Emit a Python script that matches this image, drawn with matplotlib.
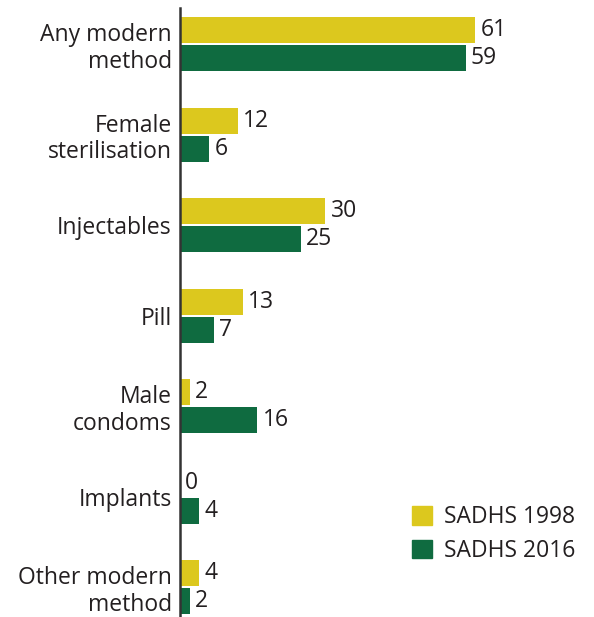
import matplotlib.pyplot as plt
from matplotlib.patches import Patch

# data
methods = ["Any modern\nmethod", "Female\nsterilisation", "Injectables", "Pill",
           "Male\ncondoms", "Implants", "Other modern\nmethod"]
sadhs_1998 = [61, 12, 30, 13, 2, 0, 4]
sadhs_2016 = [59, 6, 25, 7, 16, 4, 2]

yellow = "#DCC81E"
green = "#0F6B40"
txt = "#231F20"

plt.rcParams['font.family'] = ['Open Sans', 'DejaVu Sans']

fig = plt.figure(figsize=(5.94, 6.17), dpi=100)
ax = fig.add_axes([180 / 594, 0, 1 - 180 / 594, 1 - 8 / 617])

pos = list(range(len(methods)))
h = 0.29
ax.barh([p - 0.155 for p in pos], sadhs_1998, height=h, color=yellow)
ax.barh([p + 0.155 for p in pos], sadhs_2016, height=h, color=green)

for p, v in zip(pos, sadhs_1998):
    ax.text(v + 1.1, p - 0.155, str(v), va="center", ha="left", fontsize=16.5, color=txt)
for p, v in zip(pos, sadhs_2016):
    ax.text(v + 1.1, p + 0.155, str(v), va="center", ha="left", fontsize=16.5, color=txt)

ax.set_xlim(0, (594 - 180) / 4.84)
ax.set_ylim(6.33, -0.4)
ax.set_yticks(pos)
ax.set_yticklabels(methods, fontsize=16.5, color=txt, linespacing=1.15)
ax.tick_params(axis="y", length=0, pad=6)
ax.set_xticks([])

for s in ["top", "right", "bottom"]:
    ax.spines[s].set_visible(False)
ax.spines["left"].set_color("#333333")
ax.spines["left"].set_linewidth(1.8)

handles = [Patch(color=yellow, label="SADHS 1998"), Patch(color=green, label="SADHS 2016")]
ax.legend(handles=handles, frameon=False, fontsize=16.5, loc="upper left",
          bbox_to_anchor=(0.51, 0.217), handlelength=0.9, handleheight=0.85,
          handletextpad=0.5, labelspacing=0.4, labelcolor=txt)

fig.savefig("out.png", dpi=100)
